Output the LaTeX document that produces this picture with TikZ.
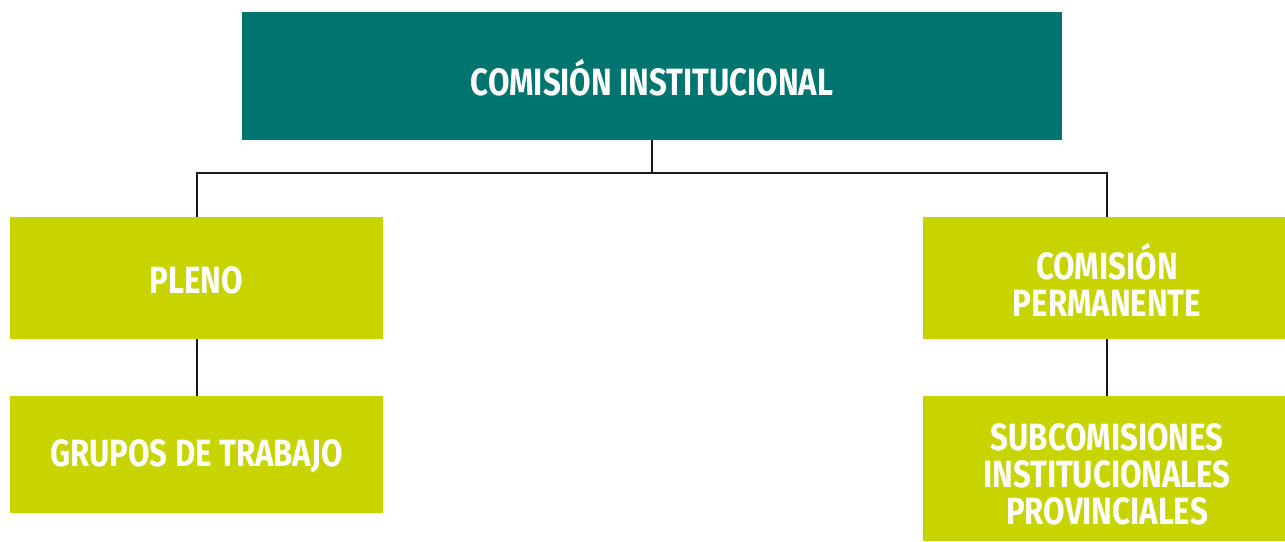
\documentclass[tikz,border=0pt]{standalone}
\usepackage{fontspec}
\setmainfont{Fira Sans}[BoldFont={* Bold},BoldFeatures={FakeStretch=0.82}]
\definecolor{teal1}{HTML}{007570}
\definecolor{lime1}{HTML}{C8D400}
\begin{document}
\begin{tikzpicture}[x=1pt,y=-1pt,
  boxbase/.style={draw=none,inner sep=0pt,outer sep=0pt,minimum width=#1},
  lbl/.style={inner sep=0pt,align=center,text=white,
    font=\bfseries\fontsize{38}{37}\selectfont},
  conn/.style={line width=2pt,draw=black!90}]
\useasboundingbox (0,0) rectangle (1285,541);
\node[boxbase=820,minimum height=128,fill=teal1] (top) at (652,76) {};
\node[boxbase=373,minimum height=122,fill=lime1] (pleno) at (196.5,278) {};
\node[boxbase=373,minimum height=117,fill=lime1] (grupos) at (196.5,454.5) {};
\node[boxbase=362,minimum height=122,fill=lime1] (perm) at (1104,278) {};
\node[boxbase=362,minimum height=145,fill=lime1] (sub) at (1104,468.5) {};
\node[lbl] (toplbl) at (652,78) {COMISIÓN INSTITUCIONAL};
\node[lbl] (plenolbl) at (196.5,280) {PLENO};
\node[lbl] (gruposlbl) at (196.5,456) {GRUPOS DE TRABAJO};
\node[lbl] (permlbl) at (1107,280) {COMISIÓN\\PERMANENTE};
\node[lbl] (sublbl) at (1107,474) {SUBCOMISIONES\\INSTITUCIONALES\\PROVINCIALES};
\coordinate (j) at (652,173);
\draw[conn] (top.south) -- (j) -| ([xshift=0.5pt]pleno.north);
\draw[conn] (j) -| ([xshift=3pt]perm.north);
\draw[conn] ([xshift=0.5pt]pleno.south) -- ([xshift=0.5pt]grupos.north);
\draw[conn] ([xshift=3pt]perm.south) -- ([xshift=3pt]sub.north);
\end{tikzpicture}
\end{document}
